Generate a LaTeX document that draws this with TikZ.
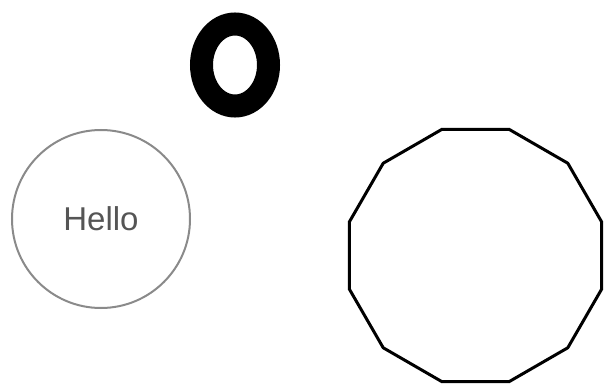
\documentclass[tikz,border=0pt]{standalone}
\usepackage{fontspec}
\setsansfont{Liberation Sans}
\usepackage{xcolor}
\usepackage{tikz}
\usetikzlibrary{shapes.geometric}
\definecolor{ringdark}{HTML}{000000}
\definecolor{softline}{HTML}{8A8A8A}
\definecolor{softtext}{HTML}{555555}
\tikzset{
  ringblk/.style={ellipse, draw=ringdark, line width=23pt, inner sep=0pt, minimum width=67pt, minimum height=82pt},
  hellocirc/.style={circle, draw=softline, line width=2pt, inner sep=0pt, minimum size=178pt, text=softtext, font=\sffamily\fontsize{33}{33}\selectfont},
  twelvegon/.style={regular polygon, regular polygon sides=12, draw=black, line width=3pt, inner sep=0pt, minimum size=261pt},
}
\begin{document}
\begin{tikzpicture}[x=1pt, y=-1pt]
  \useasboundingbox (0,0) rectangle (604,390);
  \node[ringblk] (ring) at (235,65) {};
  \node[hellocirc] (hello) at (101,219) {Hello};
  \node[twelvegon] (poly) at (475.5,255.5) {};
\end{tikzpicture}
\end{document}
